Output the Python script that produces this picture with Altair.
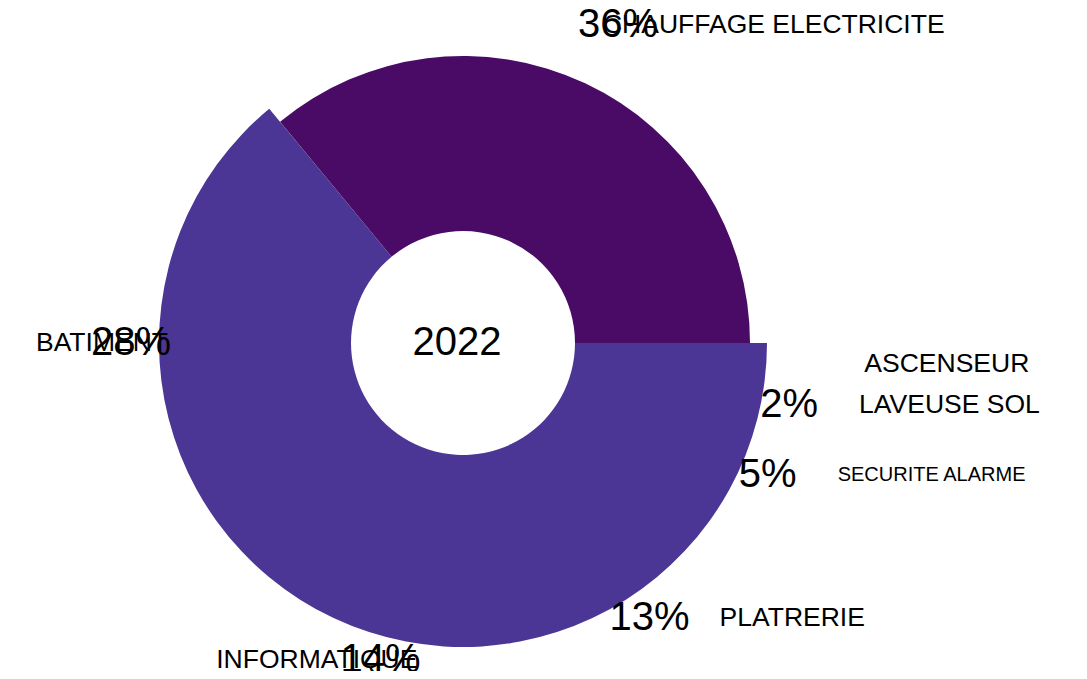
import altair as alt
import pandas as pd

# ---- data ----
categories = ["ASCENSEUR", "LAVEUSE SOL", "SECURITE ALARME", "PLATRERIE",
              "INFORMATIQUE", "BATIMENT", "CHAUFFAGE ELECTRICITE"]
shares = [2.0, 2.0, 5.0, 13.0, 14.0, 28.0, 36.0]
pct_labels = ["", "2%", "5%", "13%", "14%", "28%", "36%"]
groups = ["autres", "autres", "autres", "autres", "autres", "autres", "chauffage"]
year = ["2022"]

df = pd.DataFrame({
    "cat": categories,
    "value": shares,
    "pct": pct_labels,
    "grp": groups,
    "order": list(range(len(categories))),
})

CX, CY = 455, 335
FONT = "Liberation Sans"

base = (
    alt.Chart(df)
    .transform_joinaggregate(total="sum(value)")
    .transform_window(cum="sum(value)", sort=[alt.SortField("order")], frame=[None, 0])
    .transform_calculate(
        a0="PI/2 + 2*PI*(datum.cum - datum.value)/datum.total",
        a1="PI/2 + 2*PI*datum.cum/datum.total",
    )
    .transform_calculate(
        amid="(datum.a0 + datum.a1)/2",
        rout="datum.grp == 'chauffage' ? 287 : 304",
    )
    .transform_calculate(
        rl="cos(datum.amid) > 0.7 ? 364 : 332",
    )
    .transform_calculate(
        ppx=f"{CX} + datum.rl*sin(datum.amid)",
        ppy=f"clamp({CY} - datum.rl*cos(datum.amid), 17, 652)",
    )
    .transform_calculate(
        cpx="sin(datum.amid) >= 0 ? (cos(datum.amid) > 0.7 ? datum.ppx - 15 : datum.ppx + 70) : datum.ppx + 37",
    )
)

color_scale = alt.Scale(domain=["autres", "chauffage"], range=["#4B3695", "#490B66"])

# slices of the same colour group drawn as one seamless arc
arcs = base.transform_aggregate(
    s0="min(a0)", s1="max(a1)", groupby=["grp", "rout"]
).mark_arc(innerRadius=112, opacity=1).encode(
    theta=alt.Theta("s0:Q", scale=None),
    theta2="s1:Q",
    radius=alt.Radius("rout:Q", scale=None),
    color=alt.Color("grp:N", scale=color_scale, legend=None),
    x=alt.value(CX),
    y=alt.value(CY),
)

pct_text = base.mark_text(font=FONT, fontSize=40, color="black", baseline="middle").encode(
    x=alt.X("ppx:Q", scale=None, axis=None),
    y=alt.Y("ppy:Q", scale=None, axis=None),
    text="pct:N",
)

size_enc = alt.condition("datum.cat == 'SECURITE ALARME'", alt.value(20), alt.value(26.5))

cat_right = base.transform_filter("sin(datum.amid) >= 0").mark_text(
    font=FONT, align="left", baseline="middle", color="black"
).encode(
    x=alt.X("cpx:Q", scale=None, axis=None),
    y=alt.Y("ppy:Q", scale=None, axis=None),
    text="cat:N",
    size=size_enc,
)

cat_left = base.transform_filter("sin(datum.amid) < 0").mark_text(
    font=FONT, align="right", baseline="middle", color="black"
).encode(
    x=alt.X("cpx:Q", scale=None, axis=None),
    y=alt.Y("ppy:Q", scale=None, axis=None),
    text="cat:N",
    size=size_enc,
)

center = alt.Chart(pd.DataFrame({"year": year})).mark_text(
    font=FONT, fontSize=40, color="black", baseline="middle", dx=-6
).encode(
    text="year:N",
    x=alt.value(CX),
    y=alt.value(CY),
)

chart = (
    alt.layer(arcs, pct_text, cat_right, cat_left, center)
    .properties(width=1071, height=663, padding=0, autosize="none")
    .configure_view(stroke=None)
)

chart.save("out.html", embed_options={"renderer": "svg", "actions": False})
